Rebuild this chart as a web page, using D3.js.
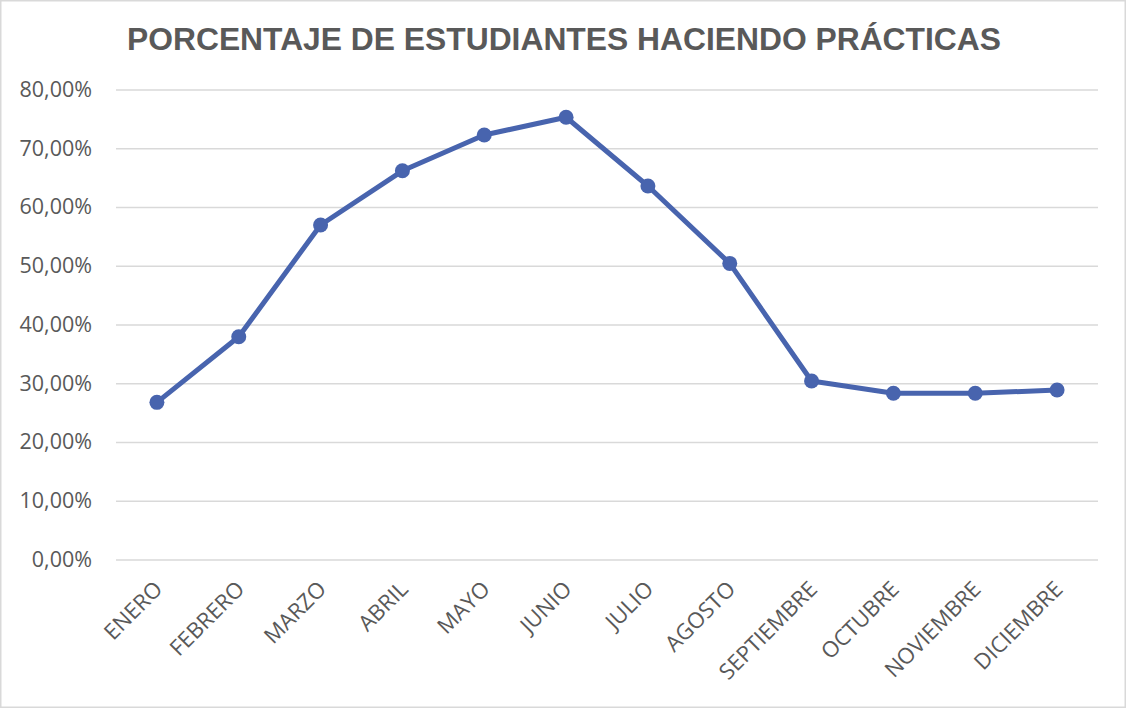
<!DOCTYPE html>
<html><head><meta charset="utf-8">
<script src="https://cdn.jsdelivr.net/npm/d3@7/dist/d3.min.js"></script>
<style>html,body{margin:0;padding:0;background:#fff;}svg{display:block;}</style>
</head><body>
<svg id="c" width="1126" height="708"></svg>
<script>
const categories = ["ENERO","FEBRERO","MARZO","ABRIL","MAYO","JUNIO","JULIO","AGOSTO","SEPTIEMBRE","OCTUBRE","NOVIEMBRE","DICIEMBRE"];
const values = [0.2675,0.3792,0.5694,0.6616,0.7226,0.7527,0.6357,0.5040,0.3038,0.2830,0.2830,0.2885];
const yTicks = [0,0.1,0.2,0.3,0.4,0.5,0.6,0.7,0.8];
const title = "PORCENTAJE DE ESTUDIANTES HACIENDO PRÁCTICAS";

(function(){
const svg = d3.select("#c");
const W = 1126, H = 708;
svg.append("rect").attr("x",0.75).attr("y",0.75).attr("width",W-1.5).attr("height",H-1.5)
  .attr("fill","#fff").attr("stroke","#d9d9d9").attr("stroke-width",1.5);

const pl = 116, pr = 1098, pt = 89.5, pb = 559.5;
const x = d3.scaleBand().domain(categories).range([pl,pr]);
const y = d3.scaleLinear().domain([0,0.8]).range([pb,pt]);

svg.append("text").attr("x",564).attr("y",50).attr("text-anchor","middle")
  .attr("font-family","Liberation Sans, Arial, sans-serif").attr("font-weight","bold")
  .attr("font-size",31.8).attr("fill","#595959").text(title);

const fmt = v => (v*100).toFixed(2).replace(".",",") + "%";
const yAxis = d3.axisLeft(y).tickValues(yTicks).tickFormat(fmt).tickSize(-(pr-pl)).tickPadding(24);
const gy = svg.append("g").attr("transform",`translate(${pl},0)`).call(yAxis);
gy.select(".domain").remove();
gy.selectAll(".tick line").attr("stroke","#d9d9d9").attr("stroke-width",1.5);
gy.selectAll(".tick text").attr("font-family","Open Sans, Noto Sans, sans-serif").attr("font-size",21.5).attr("fill","#595959");

const xAxis = d3.axisBottom(x).tickSize(0).tickPadding(0);
const gx = svg.append("g").attr("transform",`translate(0,${pb})`).call(xAxis);
gx.select(".domain").remove();
gx.selectAll(".tick text")
  .attr("font-family","Open Sans, Noto Sans, sans-serif").attr("font-size",22).attr("fill","#595959")
  .attr("text-anchor","end").attr("dy",null).attr("y",0)
  .attr("transform","translate(7,31) rotate(-45)");

const line = d3.line().x((d,i)=>x(categories[i])+x.bandwidth()/2).y(d=>y(d));
svg.append("path").datum(values).attr("d",line).attr("fill","none")
  .attr("stroke","#4864ae").attr("stroke-width",5).attr("stroke-linejoin","round");
svg.selectAll("circle.pt").data(values).enter().append("circle").attr("class","pt")
  .attr("cx",(d,i)=>x(categories[i])+x.bandwidth()/2).attr("cy",d=>y(d)).attr("r",7.5)
  .attr("fill","#4864ae");
})();
</script>
</body></html>
